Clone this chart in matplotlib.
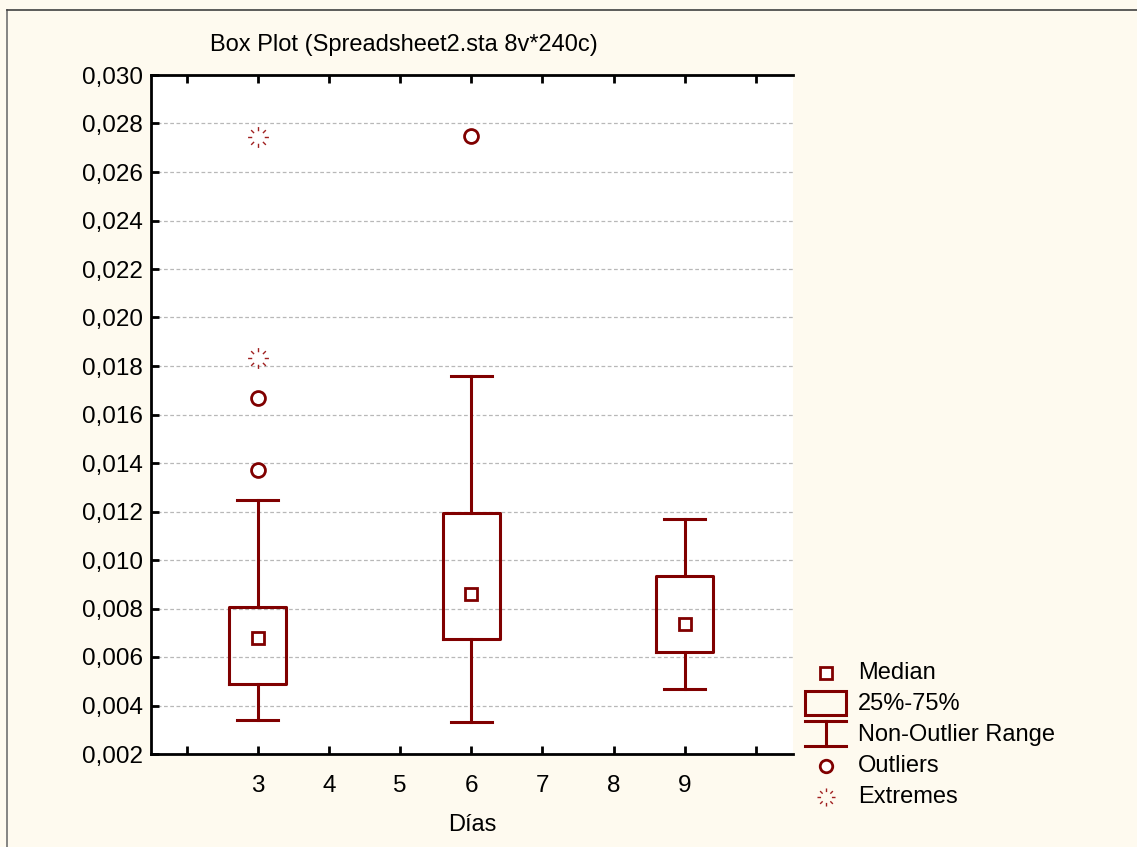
import numpy as np
import matplotlib.pyplot as plt
from matplotlib.path import Path
from matplotlib.lines import Line2D
from matplotlib.patches import Rectangle

plt.rcParams['font.family'] = ['Liberation Sans', 'DejaVu Sans']

# Box plot summary per day
days = [3, 6, 9]
q1 = [0.00489, 0.00676, 0.00621]
medians = [0.00678, 0.00860, 0.00735]
q3 = [0.00806, 0.01194, 0.00935]
whisk_lo = [0.00340, 0.00332, 0.00470]
whisk_hi = [0.01247, 0.01759, 0.01169]

outlier_days = [3, 3, 6]
outlier_vals = [0.01371, 0.01668, 0.02748]
extreme_days = [3, 3]
extreme_vals = [0.01833, 0.02744]

xticks = [2, 3, 4, 5, 6, 7, 8, 9, 10]
xticklabels = ['', '3', '4', '5', '6', '7', '8', '9', '']
yticks = np.arange(0.002, 0.0301, 0.002)

legend_labels = ['Median', '25%-75%', 'Non-Outlier Range', 'Outliers', 'Extremes']

RED = '#800000'
BG = '#fefaef'

# star of short radial dashes used for extremes
verts, codes = [], []
for a in np.linspace(0, 2 * np.pi, 8, endpoint=False):
    verts += [(0.6 * np.cos(a), 0.6 * np.sin(a)), (np.cos(a), np.sin(a))]
    codes += [Path.MOVETO, Path.LINETO]
star = Path(verts, codes)

fig = plt.figure(figsize=(11.37, 8.47), dpi=100, facecolor=BG)
ax = fig.add_axes([151 / 1137, 1 - 754 / 847, 642 / 1137, 679 / 847])
ax.set_facecolor('white')

stats = [dict(med=m, q1=a, q3=b, whislo=lo, whishi=hi, fliers=[])
         for m, a, b, lo, hi in zip(medians, q1, q3, whisk_lo, whisk_hi)]
ax.bxp(stats, positions=days, widths=0.8, capwidths=0.58, showfliers=False,
       boxprops=dict(color=RED, lw=2.2),
       whiskerprops=dict(color=RED, lw=2.2),
       capprops=dict(color=RED, lw=2.2),
       medianprops=dict(linestyle='none'),
       manage_ticks=False, zorder=3)
ax.plot(days, medians, 's', ms=9, mfc='white', mec=RED, mew=2, zorder=4)
ax.plot(outlier_days, outlier_vals, 'o', ms=10, mfc='white', mec=RED, mew=2, zorder=4)
ax.plot(extreme_days, extreme_vals, ls='none', marker=star, ms=15, mec='#a02020', mew=1.0, zorder=4)

ax.set_xlim(1.5, 10.52)
ax.set_ylim(0.002, 0.030)
ax.set_xticks(xticks)
ax.set_xticklabels(xticklabels)
ax.set_yticks(yticks)
ax.set_yticklabels([f'{v:.3f}'.replace('.', ',') for v in yticks])
ax.tick_params(axis='x', direction='in', length=6, width=2, top=True, pad=15, labelsize=17.5)
ax.tick_params(axis='y', direction='in', length=6, width=2, pad=6, labelsize=17.5)
ax.grid(axis='y', color='#b8b8b8', ls=(0, (3, 2)), lw=0.9, zorder=0)
ax.spines['right'].set_visible(False)
for s in ['left', 'top', 'bottom']:
    ax.spines[s].set_linewidth(2)
ax.set_xlabel('Días', fontsize=17, labelpad=12)

fig.text(404 / 1137, 1 - 45 / 847, 'Box Plot (Spreadsheet2.sta 8v*240c)',
         ha='center', va='center', fontsize=17)

# outer frame
fig.add_artist(Line2D([7 / 1137, 7 / 1137], [0, 1 - 10 / 847], color='#707070', lw=1.2))
fig.add_artist(Line2D([7 / 1137, 1], [1 - 10 / 847, 1 - 10 / 847], color='#404040', lw=1.2))

# legend, drawn in pixel units
lg = fig.add_axes([0, 0, 1, 1], facecolor='none')
lg.set_xlim(0, 1137)
lg.set_ylim(847, 0)
lg.axis('off')
rows = [673, 704, 735, 766, 797]
lg.plot(826, rows[0], 's', ms=9, mfc='white', mec=RED, mew=2)
lg.add_patch(Rectangle((805, 691), 41, 24, fill=False, ec=RED, lw=2.2))
lg.plot([805, 846], [721, 721], color=RED, lw=2.2)
lg.plot([805, 846], [746, 746], color=RED, lw=2.2)
lg.plot([826, 826], [721, 746], color=RED, lw=2.2)
lg.plot(826, rows[3], 'o', ms=9, mfc='white', mec=RED, mew=2)
lg.plot(826, rows[4], ls='none', marker=star, ms=13, mec='#a02020', mew=1.0)
for r, t in zip(rows, legend_labels):
    lg.text(858, r, t, va='center', ha='left', fontsize=17)

fig.savefig('out.png', dpi=100, facecolor=BG)
